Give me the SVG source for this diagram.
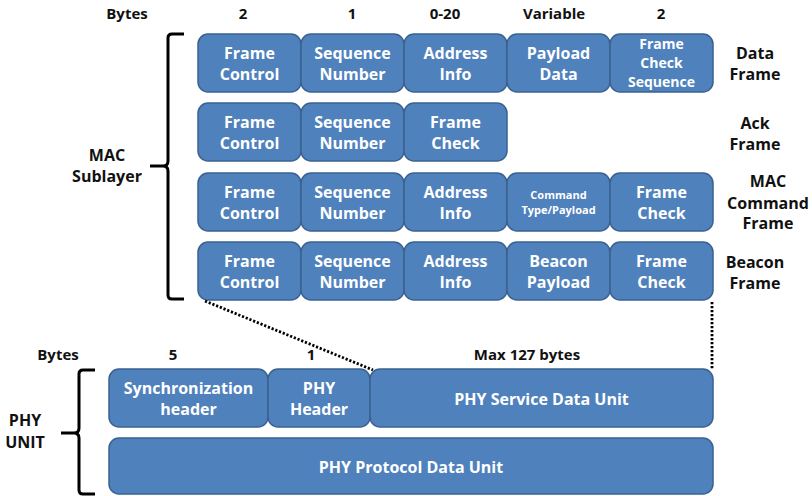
<svg xmlns="http://www.w3.org/2000/svg" width="812" height="496" viewBox="0 0 812 496">
<style>
.box{fill:#4F81BD;stroke:#3A6190;stroke-width:1.5}
.t{font-family:"Open Sans","Liberation Sans",sans-serif;font-weight:bold;fill:#fff;font-size:16px;text-anchor:middle}
.s{font-size:14px}
.xs{font-size:11px}
.k{font-family:"Open Sans","Liberation Sans",sans-serif;font-weight:bold;fill:#111;font-size:16px;text-anchor:middle}
.b{font-size:15px}
.br{fill:none;stroke:#000;stroke-width:3}
.dot{fill:none;stroke:#000;stroke-width:2.8;stroke-dasharray:2.2 1.8}
</style>
<rect width="812" height="496" fill="#fff"/>
<g id="header">
<text class="k b" x="127" y="19">Bytes</text>
<text class="k b" x="243" y="19">2</text>
<text class="k b" x="352" y="19">1</text>
<text class="k b" x="445" y="19">0-20</text>
<text class="k b" x="554" y="19">Variable</text>
<text class="k b" x="661" y="19">2</text>
</g>
<g id="mac-bracket">
<path class="br" d="M184,34 H172 Q168,34 168,38 V161 Q168,166 163,166 H150 M163,166 Q168,166 168,171 V295 Q168,299 172,299 H184"/>
<text class="k" x="107" y="161">MAC</text>
<text class="k" x="107" y="182">Sublayer</text>
</g>
<g id="data-frame">
<rect class="box" x="198" y="34" width="103" height="58" rx="10"/>
<text class="t" x="249.5" y="59">Frame</text><text class="t" x="249.5" y="80">Control</text>
<rect class="box" x="301" y="34" width="103" height="58" rx="10"/>
<text class="t" x="352.5" y="59">Sequence</text><text class="t" x="352.5" y="80">Number</text>
<rect class="box" x="404" y="34" width="103" height="58" rx="10"/>
<text class="t" x="455.5" y="59">Address</text><text class="t" x="455.5" y="80">Info</text>
<rect class="box" x="507" y="34" width="103" height="58" rx="10"/>
<text class="t" x="558.5" y="59">Payload</text><text class="t" x="558.5" y="80">Data</text>
<rect class="box" x="610" y="34" width="103" height="58" rx="10"/>
<text class="t s" x="661.5" y="49">Frame</text><text class="t s" x="661.5" y="68">Check</text><text class="t s" x="661.5" y="87">Sequence</text>
<text class="k" x="755" y="59">Data</text><text class="k" x="755" y="80">Frame</text>
</g>
<g id="ack-frame">
<rect class="box" x="198" y="103" width="103" height="58" rx="10"/>
<text class="t" x="249.5" y="128">Frame</text><text class="t" x="249.5" y="149">Control</text>
<rect class="box" x="301" y="103" width="103" height="58" rx="10"/>
<text class="t" x="352.5" y="128">Sequence</text><text class="t" x="352.5" y="149">Number</text>
<rect class="box" x="404" y="103" width="103" height="58" rx="10"/>
<text class="t" x="455.5" y="128">Frame</text><text class="t" x="455.5" y="149">Check</text>
<text class="k" x="755" y="129">Ack</text><text class="k" x="755" y="150">Frame</text>
</g>
<g id="mac-command-frame">
<rect class="box" x="198" y="173" width="103" height="58" rx="10"/>
<text class="t" x="249.5" y="198">Frame</text><text class="t" x="249.5" y="219">Control</text>
<rect class="box" x="301" y="173" width="103" height="58" rx="10"/>
<text class="t" x="352.5" y="198">Sequence</text><text class="t" x="352.5" y="219">Number</text>
<rect class="box" x="404" y="173" width="103" height="58" rx="10"/>
<text class="t" x="455.5" y="198">Address</text><text class="t" x="455.5" y="219">Info</text>
<rect class="box" x="507" y="173" width="103" height="58" rx="10"/>
<text class="t xs" x="558.5" y="199">Command</text><text class="t xs" x="558.5" y="214">Type/Payload</text>
<rect class="box" x="610" y="173" width="103" height="58" rx="10"/>
<text class="t" x="661.5" y="198">Frame</text><text class="t" x="661.5" y="219">Check</text>
<text class="k" x="768" y="187">MAC</text><text class="k" x="768" y="209">Command</text><text class="k" x="768" y="229">Frame</text>
</g>
<g id="beacon-frame">
<rect class="box" x="198" y="242" width="103" height="58" rx="10"/>
<text class="t" x="249.5" y="267">Frame</text><text class="t" x="249.5" y="288">Control</text>
<rect class="box" x="301" y="242" width="103" height="58" rx="10"/>
<text class="t" x="352.5" y="267">Sequence</text><text class="t" x="352.5" y="288">Number</text>
<rect class="box" x="404" y="242" width="103" height="58" rx="10"/>
<text class="t" x="455.5" y="267">Address</text><text class="t" x="455.5" y="288">Info</text>
<rect class="box" x="507" y="242" width="103" height="58" rx="10"/>
<text class="t" x="558.5" y="267">Beacon</text><text class="t" x="558.5" y="288">Payload</text>
<rect class="box" x="610" y="242" width="103" height="58" rx="10"/>
<text class="t" x="661.5" y="267">Frame</text><text class="t" x="661.5" y="288">Check</text>
<text class="k" x="755" y="268">Beacon</text><text class="k" x="755" y="289">Frame</text>
</g>
<g id="connectors">
<path class="dot" d="M205,301 L373,370"/>
<path class="dot" d="M712,302 V370"/>
</g>
<g id="phy-header">
<text class="k b" x="58" y="360">Bytes</text>
<text class="k b" x="173" y="360">5</text>
<text class="k b" x="311" y="360">1</text>
<text class="k b" x="527" y="360">Max 127 bytes</text>
</g>
<g id="phy-bracket">
<path class="br" d="M95,370 H83 Q79,370 79,374 V428 Q79,433 74,433 H61 M74,433 Q79,433 79,438 V490 Q79,494 83,494 H95"/>
<text class="k" x="25" y="426">PHY</text>
<text class="k" x="25" y="448">UNIT</text>
</g>
<g id="phy-row1">
<rect class="box" x="109" y="369" width="159" height="58" rx="10"/>
<text class="t" x="188.5" y="394">Synchronization</text><text class="t" x="188.5" y="415">header</text>
<rect class="box" x="268" y="369" width="102" height="58" rx="10"/>
<text class="t" x="319" y="394">PHY</text><text class="t" x="319" y="415">Header</text>
<rect class="box" x="370" y="369" width="343" height="58" rx="10"/>
<text class="t" x="541.5" y="405">PHY Service Data Unit</text>
</g>
<g id="phy-ppdu">
<rect class="box" x="109" y="438" width="604" height="56" rx="10"/>
<text class="t" x="411" y="473">PHY Protocol Data Unit</text>
</g>
</svg>
